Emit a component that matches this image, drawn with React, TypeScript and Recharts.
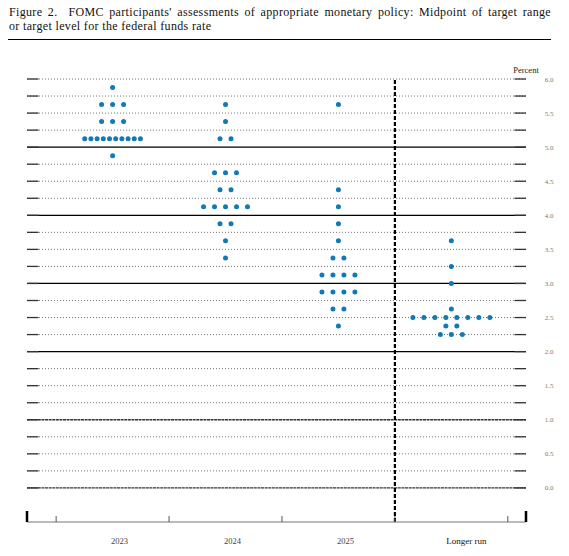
import { ReferenceLine, Scatter, ScatterChart, XAxis, YAxis } from "recharts";

// FOMC dot plot: midpoint of target range for the federal funds rate
const CATEGORIES = ["2023", "2024", "2025", "Longer run"];

const RATES_2023 = [5.875, 5.625, 5.375, 5.125, 4.875];
const COUNTS_2023 = [1, 3, 3, 10, 1];

const RATES_2024 = [5.625, 5.375, 5.125, 4.625, 4.375, 4.125, 3.875, 3.625, 3.375];
const COUNTS_2024 = [1, 1, 2, 3, 2, 5, 2, 1, 1];

const RATES_2025 = [5.625, 4.375, 4.125, 3.875, 3.625, 3.375, 3.125, 2.875, 2.625, 2.375];
const COUNTS_2025 = [1, 1, 1, 1, 1, 2, 4, 4, 2, 1];

const RATES_LONGER = [3.625, 3.25, 3.0, 2.625, 2.5, 2.375, 2.25];
const COUNTS_LONGER = [1, 1, 1, 1, 8, 2, 3];

const LABEL_TICKS = [0, 0.5, 1, 1.5, 2, 2.5, 3, 3.5, 4, 4.5, 5, 5.5, 6];
const GRID_LINES = [
  0, 0.25, 0.5, 0.75, 1, 1.25, 1.5, 1.75, 2, 2.25, 2.5, 2.75, 3, 3.25, 3.5,
  3.75, 4, 4.25, 4.5, 4.75, 5, 5.25, 5.5, 5.75, 6,
];
const SOLID_LINES = [2, 3, 4, 5];
const DENSE_LINES = [0, 1];

const CATEGORY_POS = [0, 1, 2, 3];
const BOUNDS = [-0.5, 0.5, 1.5, 2.5, 3.5];
const X_MIN = -0.758;
const X_MAX = 3.661;
const SPLIT = 2.5;

const DOT = "#1279b4";
const STEP = 0.0973; // ~11px between dots
const TIGHT = 0.0548; // crowded rows get squeezed
const LABEL_DX = [7, 7, 7, 15];

const columns = [
  { rates: RATES_2023, counts: COUNTS_2023 },
  { rates: RATES_2024, counts: COUNTS_2024 },
  { rates: RATES_2025, counts: COUNTS_2025 },
  { rates: RATES_LONGER, counts: COUNTS_LONGER },
];

const points = columns.flatMap((col, ci) =>
  col.rates.flatMap((rate, ri) => {
    const n = col.counts[ri];
    const step = n > 8 ? TIGHT : STEP;
    return Array.from({ length: n }, (_, k) => ({
      x: CATEGORY_POS[ci] + (k - (n - 1) / 2) * step,
      y: rate,
    }));
  })
);

const X_TICKS = [X_MIN, ...BOUNDS, ...CATEGORY_POS, X_MAX].sort((a, b) => a - b);

function XTick(props: any) {
  const { x, y, payload } = props;
  const v = payload.value;
  if (v === X_MIN || v === X_MAX) {
    return <line x1={x} x2={x} y1={y} y2={y - 11} stroke="#000" strokeWidth={2.5} />;
  }
  const ci = CATEGORY_POS.indexOf(v);
  if (ci >= 0) {
    const longer = ci === 3;
    return (
      <text
        x={x + LABEL_DX[ci]}
        y={y + 22}
        textAnchor="middle"
        fontFamily="Liberation Serif"
        fontSize={longer ? 9 : 8.5}
        fill={longer ? "#111" : "#444"}
      >
        {CATEGORIES[ci]}
      </text>
    );
  }
  return <line x1={x} x2={x} y1={y} y2={y - 6} stroke="#555" strokeWidth={1} />;
}

function YLabel(props: any) {
  const { x, y, payload } = props;
  return (
    <text
      x={x + 23}
      y={y}
      dy={2.5}
      textAnchor="middle"
      fontFamily="Liberation Serif"
      fontSize={7}
      fill="#7a7a7a"
    >
      {payload.value.toFixed(1)}
    </text>
  );
}

function gridStyle(v: number) {
  if (SOLID_LINES.includes(v)) return { stroke: "#000", strokeWidth: 1.2 };
  if (DENSE_LINES.includes(v))
    return { stroke: "#333", strokeWidth: 1.3, strokeDasharray: "3 0.6" };
  return { stroke: "#666", strokeWidth: 0.9, strokeDasharray: "1 2" };
}

// gridline plus the short solid ticks at both ends
function GridShape(props: any) {
  const { x1, x2, y1, stroke, strokeWidth, strokeDasharray } = props;
  const left = Math.min(x1, x2);
  const right = Math.max(x1, x2);
  return (
    <g>
      <line
        x1={left}
        x2={right}
        y1={y1}
        y2={y1}
        stroke={stroke}
        strokeWidth={strokeWidth}
        strokeDasharray={strokeDasharray}
      />
      <line x1={left} x2={left + 11.5} y1={y1} y2={y1} stroke="#333" strokeWidth={1.3} />
      <line x1={right - 11.5} x2={right} y1={y1} y2={y1} stroke="#333" strokeWidth={1.3} />
    </g>
  );
}

export default function App() {
  return (
    <div
      style={{
        position: "absolute",
        left: 0,
        top: 0,
        width: 569,
        height: 556,
        background: "#fff",
      }}
    >
      <div
        style={{
          position: "absolute",
          left: 9,
          top: 5,
          width: 542,
          fontFamily: "Liberation Serif",
          fontSize: 12,
          letterSpacing: 0.34,
          lineHeight: "14px",
          color: "#111",
        }}
      >
        <div style={{ textAlign: "justify", textAlignLast: "justify" }}>
          Figure 2.&nbsp; FOMC participants' assessments of appropriate monetary policy: Midpoint of target range
        </div>
        <div>or target level for the federal funds rate</div>
      </div>
      <div
        style={{
          position: "absolute",
          left: 8,
          top: 38.5,
          width: 543,
          height: 1.4,
          background: "#000",
        }}
      />
      <div
        style={{
          position: "absolute",
          left: 496,
          top: 65,
          width: 60,
          textAlign: "center",
          fontFamily: "Liberation Serif",
          fontSize: 8.5,
          color: "#222",
        }}
      >
        Percent
      </div>
      <div style={{ position: "absolute", left: 0, top: 0 }}>
        <ScatterChart
          width={569}
          height={556}
          margin={{ top: 79, right: 0, bottom: 0, left: 27 }}
        >
          <XAxis
            xAxisId="x"
            type="number"
            dataKey="x"
            domain={[X_MIN, X_MAX]}
            allowDataOverflow
            ticks={X_TICKS}
            interval={0}
            height={34}
            tickSize={0}
            tickMargin={0}
            tickLine={false}
            axisLine={{ stroke: "#777", strokeWidth: 1.2 }}
            tick={<XTick />}
          />
          <YAxis
            yAxisId="v"
            type="number"
            dataKey="y"
            domain={[-0.5, 6]}
            allowDataOverflow
            orientation="right"
            width={43}
            ticks={LABEL_TICKS}
            interval={0}
            tickSize={0}
            tickMargin={0}
            tickLine={false}
            axisLine={false}
            tick={<YLabel />}
          />
          {GRID_LINES.map((v) => (
            <ReferenceLine
              key={v}
              xAxisId="x"
              yAxisId="v"
              y={v}
              {...gridStyle(v)}
              shape={GridShape}
            />
          ))}
          <ReferenceLine
            xAxisId="x"
            yAxisId="v"
            x={SPLIT}
            stroke="#000"
            strokeWidth={2.2}
            strokeDasharray="4 2"
          />
          <Scatter
            xAxisId="x"
            yAxisId="v"
            data={points}
            isAnimationActive={false}
            shape={(p: any) => <circle cx={p.cx} cy={p.cy} r={2.5} fill={DOT} />}
          />
        </ScatterChart>
      </div>
    </div>
  );
}
